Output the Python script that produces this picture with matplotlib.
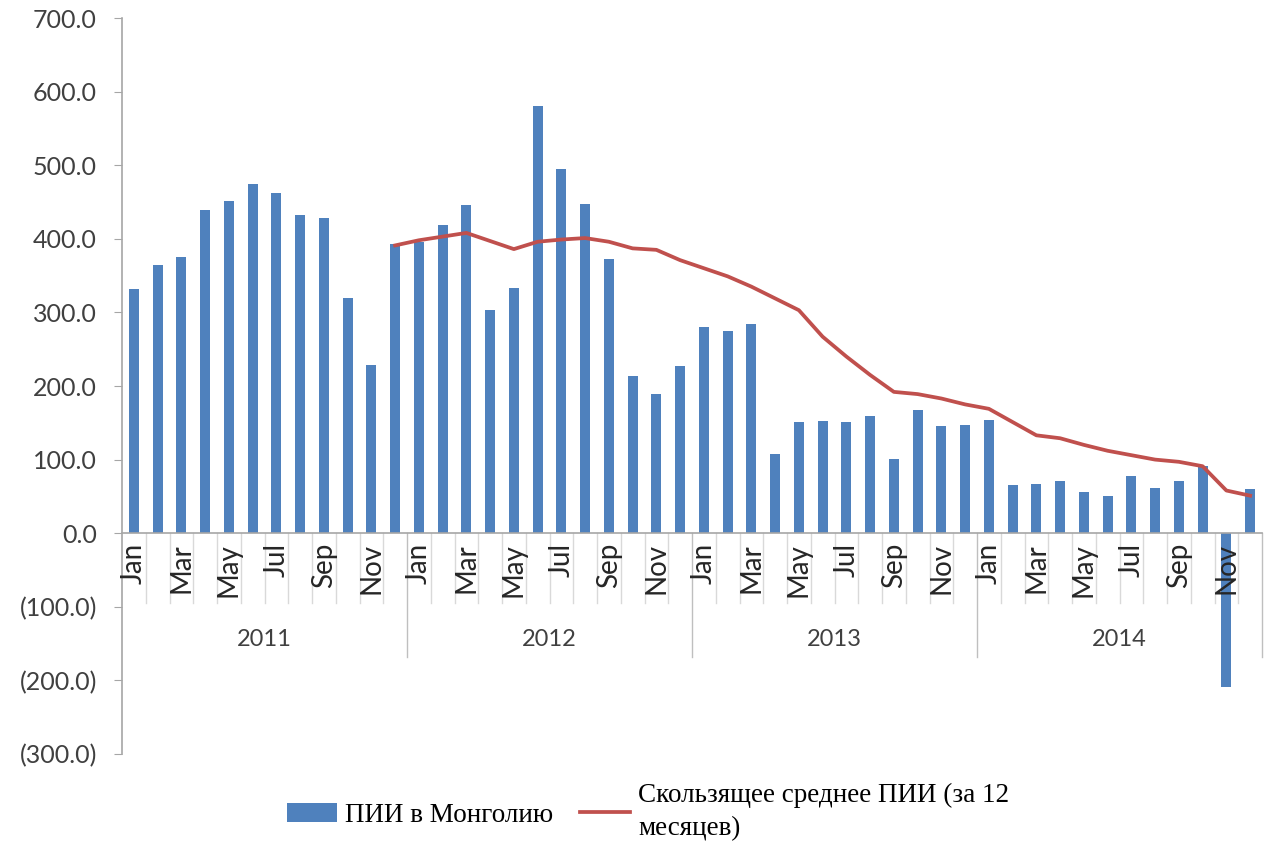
import matplotlib
matplotlib.use("Agg")
import matplotlib.pyplot as plt
import numpy as np

years = ["2011", "2012", "2013", "2014"]
months = ["Jan", "Feb", "Mar", "Apr", "May", "Jun", "Jul", "Aug", "Sep", "Oct", "Nov", "Dec"]

fdi_2011 = [332, 364, 375, 439, 451, 474, 462, 433, 428, 319, 229, 393]
fdi_2012 = [395, 419, 446, 303, 333, 580, 495, 447, 373, 214, 189, 227]
fdi_2013 = [280, 275, 284, 107, 151, 152, 151, 159, 101, 167, 145, 147]
fdi_2014 = [154, 65, 67, 71, 56, 51, 78, 62, 71, 91, -209, 60]

ma_2011 = [None] * 11 + [391]
ma_2012 = [398, 403, 408, 397, 386, 396, 399, 401, 396, 387, 385, 371]
ma_2013 = [360, 349, 335, 319, 303, 267, 240, 215, 192, 189, 183, 175]
ma_2014 = [169, 151, 133, 129, 120, 112, 106, 100, 97, 91, 58, 51]

yticks = [700, 600, 500, 400, 300, 200, 100, 0, -100, -200, -300]
bar_label = "ПИИ в Монголию"
line_label = "Скользящее среднее ПИИ (за 12\nмесяцев)"

fdi = np.array(fdi_2011 + fdi_2012 + fdi_2013 + fdi_2014, dtype=float)
ma = np.array([np.nan if v is None else v for v in ma_2011 + ma_2012 + ma_2013 + ma_2014], dtype=float)
n = len(fdi)
x = np.arange(n)

BLUE = "#4F81BD"
RED = "#C0504D"
AX = "#A6A6A6"
FONT = "Lato"

fig = plt.figure(figsize=(12.68, 8.43), dpi=100)
ax = fig.add_axes([122 / 1268, 89 / 843, 1140 / 1268, 736 / 843])

bars = ax.bar(x, fdi, width=0.42, color=BLUE, zorder=3, label=bar_label)
line, = ax.plot(x, ma, color=RED, lw=2.7, zorder=4, label=line_label)

ax.set_xlim(-0.5, n - 0.5)
ax.set_ylim(-300, 700)
ax.set_yticks(yticks)
ax.set_yticklabels([f"{v:.1f}" if v >= 0 else f"({-v:.1f})" for v in yticks],
                   fontfamily=FONT, fontsize=18, color="#404040")
ax.tick_params(axis="y", length=6, color=AX, pad=12)
ax.set_xticks([])
for s in ["top", "right", "bottom"]:
    ax.spines[s].set_visible(False)
ax.spines["left"].set_color(AX)
ax.spines["left"].set_linewidth(1.2)

# category axis at zero
ax.plot([-0.5, n - 0.5], [0, 0], color=AX, lw=1.2, zorder=5, clip_on=False)

# dividers
for i in range(1, n + 1):
    if i % 12 == 0:
        ax.plot([i - 0.5, i - 0.5], [0, -168], color="#BFBFBF", lw=1.0, zorder=1, clip_on=False)
    else:
        ax.plot([i - 0.5, i - 0.5], [0, -95], color="#D9D9D9", lw=1.0, zorder=1, clip_on=False)

# month labels
for i in range(n):
    m = months[i % 12]
    if i % 2 == 0:
        ax.text(i, -13, m, rotation=90, ha="center", va="top",
                fontfamily=FONT, fontsize=20, color="#262626", zorder=6)

# year labels
for k, yr in enumerate(years):
    ax.text(12 * k + 5.5, -145, yr, ha="center", va="center",
            fontfamily=FONT, fontsize=17, color="#404040")

leg = fig.legend(handles=[bars, line], labels=[bar_label, line_label],
                 loc="center", bbox_to_anchor=(648 / 1268, 1 - 812 / 843), ncol=2,
                 frameon=False, prop={"family": "Liberation Serif", "size": 19.5},
                 handlelength=1.85, handletextpad=0.3, columnspacing=1.0)
for t in leg.get_texts():
    t.set_linespacing(1.4)

fig.savefig("out.png", dpi=100)
